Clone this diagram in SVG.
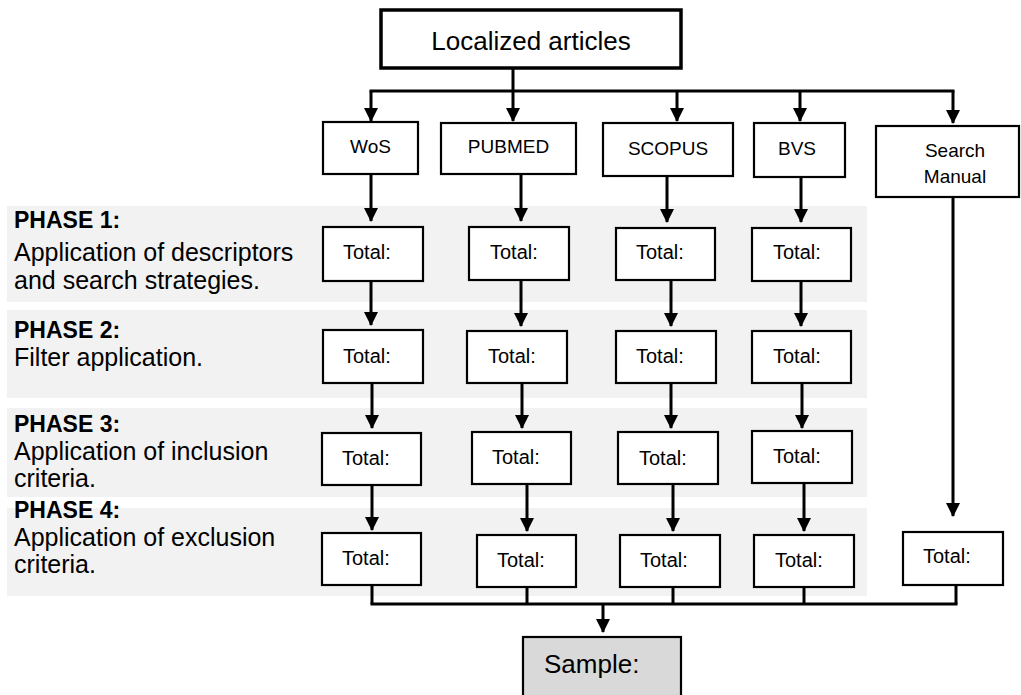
<svg xmlns="http://www.w3.org/2000/svg" width="1021" height="695" viewBox="0 0 1021 695">
  <defs>
    <marker id="arr" markerUnits="userSpaceOnUse" markerWidth="14" markerHeight="14" refX="13" refY="7" orient="auto">
      <path d="M0,0 L14,7 L0,14 z" fill="#000"/>
    </marker>
    <style>
      .band { fill: #f2f2f2; }
      .box { fill: #fff; stroke: #000; stroke-width: 2.2; }
      .lbl { font-family: "Liberation Sans", Arial, sans-serif; font-size: 19px; fill: #000; }
      .tot { font-family: "Liberation Sans", Arial, sans-serif; font-size: 20px; fill: #000; }
      .ph { font-family: "Liberation Sans", Arial, sans-serif; font-size: 25px; fill: #000; }
      .phb { font-family: "Liberation Sans", Arial, sans-serif; font-size: 23px; font-weight: bold; fill: #000; }
      .ln { fill: none; stroke: #000; stroke-width: 3; }
      .ar { fill: none; stroke: #000; stroke-width: 3; marker-end: url(#arr); }
    </style>
  </defs>

  <g id="bands">
    <rect class="band" x="7" y="206" width="860" height="96"/>
    <rect class="band" x="7" y="310" width="860" height="88"/>
    <rect class="band" x="7" y="408" width="860" height="89"/>
    <rect class="band" x="7" y="508" width="860" height="88"/>
  </g>

  <g id="phase-labels">
    <g id="phase1">
      <text class="phb" x="14" y="228">PHASE 1:</text>
      <text class="ph" x="14" y="261">Application of descriptors</text>
      <text class="ph" x="14" y="289">and search strategies.</text>
    </g>
    <g id="phase2">
      <text class="phb" x="14" y="338">PHASE 2:</text>
      <text class="ph" x="14" y="366">Filter application.</text>
    </g>
    <g id="phase3">
      <text class="phb" x="14" y="432">PHASE 3:</text>
      <text class="ph" x="14" y="460">Application of inclusion</text>
      <text class="ph" x="14" y="487">criteria.</text>
    </g>
    <g id="phase4">
      <text class="phb" x="14" y="518">PHASE 4:</text>
      <text class="ph" x="14" y="546">Application of exclusion</text>
      <text class="ph" x="14" y="573">criteria.</text>
    </g>
  </g>

  <g id="connectors">
    <!-- top distribution -->
    <line class="ln" x1="513" y1="68" x2="513" y2="91"/>
    <line class="ln" x1="369.5" y1="91" x2="954.5" y2="91"/>
    <line class="ar" x1="371" y1="91" x2="371" y2="121"/>
    <line class="ar" x1="513" y1="91" x2="513" y2="121"/>
    <line class="ar" x1="677" y1="91" x2="677" y2="121"/>
    <line class="ar" x1="800" y1="91" x2="800" y2="121"/>
    <line class="ar" x1="953" y1="91" x2="953" y2="123"/>
    <!-- WoS column -->
    <line class="ar" x1="371" y1="174" x2="371" y2="221"/>
    <line class="ar" x1="371" y1="281" x2="371" y2="325"/>
    <line class="ar" x1="372" y1="383" x2="372" y2="428"/>
    <line class="ar" x1="372" y1="485" x2="372" y2="530"/>
    <!-- PUBMED column -->
    <line class="ar" x1="521" y1="174" x2="521" y2="221"/>
    <line class="ar" x1="521" y1="280" x2="521" y2="326"/>
    <line class="ar" x1="522" y1="383" x2="522" y2="428"/>
    <line class="ar" x1="527" y1="484" x2="527" y2="531"/>
    <!-- SCOPUS column -->
    <line class="ar" x1="667" y1="176" x2="667" y2="222"/>
    <line class="ar" x1="671" y1="280" x2="671" y2="326"/>
    <line class="ar" x1="671" y1="383" x2="671" y2="428"/>
    <line class="ar" x1="673" y1="484" x2="673" y2="531"/>
    <!-- BVS column -->
    <line class="ar" x1="801" y1="177" x2="801" y2="222"/>
    <line class="ar" x1="801" y1="281" x2="801" y2="326"/>
    <line class="ar" x1="802" y1="383" x2="802" y2="428"/>
    <line class="ar" x1="804" y1="483" x2="804" y2="531"/>
    <!-- Search manual -->
    <line class="ar" x1="953" y1="197" x2="953" y2="516"/>
    <!-- collector -->
    <line class="ln" x1="372" y1="585" x2="372" y2="604"/>
    <line class="ln" x1="527" y1="587" x2="527" y2="604"/>
    <line class="ln" x1="673" y1="587" x2="673" y2="604"/>
    <line class="ln" x1="804" y1="587" x2="804" y2="604"/>
    <line class="ln" x1="956" y1="585" x2="956" y2="604"/>
    <line class="ln" x1="370.5" y1="604" x2="957.5" y2="604"/>
    <line class="ar" x1="603" y1="604" x2="603" y2="632"/>
  </g>

  <g id="localized-articles">
    <rect x="381" y="10" width="300" height="58" fill="#fff" stroke="#000" stroke-width="3.5"/>
    <text class="ph" x="531" y="50" text-anchor="middle" style="font-size:26px">Localized articles</text>
  </g>

  <g id="wos">
    <rect class="box" x="323" y="122" width="95" height="52"/>
    <text class="lbl" x="370.5" y="153" text-anchor="middle">WoS</text>
  </g>
  <g id="pubmed">
    <rect class="box" x="441" y="123" width="135" height="51"/>
    <text class="lbl" x="508.5" y="153" text-anchor="middle">PUBMED</text>
  </g>
  <g id="scopus">
    <rect class="box" x="603" y="123" width="130" height="53"/>
    <text class="lbl" x="668" y="155" text-anchor="middle">SCOPUS</text>
  </g>
  <g id="bvs">
    <rect class="box" x="754" y="123" width="91" height="54"/>
    <text class="lbl" x="797" y="155" text-anchor="middle">BVS</text>
  </g>
  <g id="search-manual">
    <rect class="box" x="876" y="126" width="143" height="71"/>
    <text class="lbl" x="955" y="157" text-anchor="middle">Search</text>
    <text class="lbl" x="955" y="183" text-anchor="middle">Manual</text>
  </g>

  <!-- Phase 1 totals -->
  <g id="wos-p1"><rect class="box" x="323" y="227" width="100" height="54"/><text class="tot" x="343" y="259">Total:</text></g>
  <g id="pubmed-p1"><rect class="box" x="469" y="227" width="100" height="53"/><text class="tot" x="490" y="259">Total:</text></g>
  <g id="scopus-p1"><rect class="box" x="616" y="228" width="99" height="52"/><text class="tot" x="636" y="259">Total:</text></g>
  <g id="bvs-p1"><rect class="box" x="752" y="228" width="99" height="53"/><text class="tot" x="773" y="259">Total:</text></g>

  <!-- Phase 2 totals -->
  <g id="wos-p2"><rect class="box" x="323" y="330" width="100" height="53"/><text class="tot" x="343" y="363">Total:</text></g>
  <g id="pubmed-p2"><rect class="box" x="467" y="331" width="100" height="52"/><text class="tot" x="488" y="363">Total:</text></g>
  <g id="scopus-p2"><rect class="box" x="616" y="331" width="100" height="52"/><text class="tot" x="636" y="363">Total:</text></g>
  <g id="bvs-p2"><rect class="box" x="752" y="331" width="99" height="52"/><text class="tot" x="773" y="363">Total:</text></g>

  <!-- Phase 3 totals -->
  <g id="wos-p3"><rect class="box" x="322" y="433" width="99" height="52"/><text class="tot" x="342" y="465">Total:</text></g>
  <g id="pubmed-p3"><rect class="box" x="472" y="432" width="99" height="52"/><text class="tot" x="492" y="464">Total:</text></g>
  <g id="scopus-p3"><rect class="box" x="618" y="432" width="100" height="52"/><text class="tot" x="639" y="465">Total:</text></g>
  <g id="bvs-p3"><rect class="box" x="752" y="431" width="100" height="52"/><text class="tot" x="773" y="463">Total:</text></g>

  <!-- Phase 4 totals -->
  <g id="wos-p4"><rect class="box" x="322" y="533" width="99" height="52"/><text class="tot" x="342" y="565">Total:</text></g>
  <g id="pubmed-p4"><rect class="box" x="477" y="535" width="99" height="52"/><text class="tot" x="497" y="567">Total:</text></g>
  <g id="scopus-p4"><rect class="box" x="620" y="535" width="100" height="52"/><text class="tot" x="640" y="567">Total:</text></g>
  <g id="bvs-p4"><rect class="box" x="754" y="535" width="100" height="52"/><text class="tot" x="775" y="567">Total:</text></g>
  <g id="search-manual-total"><rect class="box" x="903" y="532" width="100" height="53"/><text class="tot" x="923" y="563">Total:</text></g>

  <g id="sample">
    <rect x="523" y="637" width="158" height="70" fill="#d9d9d9" stroke="#000" stroke-width="2.2"/>
    <text class="ph" x="544" y="673" style="font-size:26px">Sample:</text>
  </g>
</svg>
